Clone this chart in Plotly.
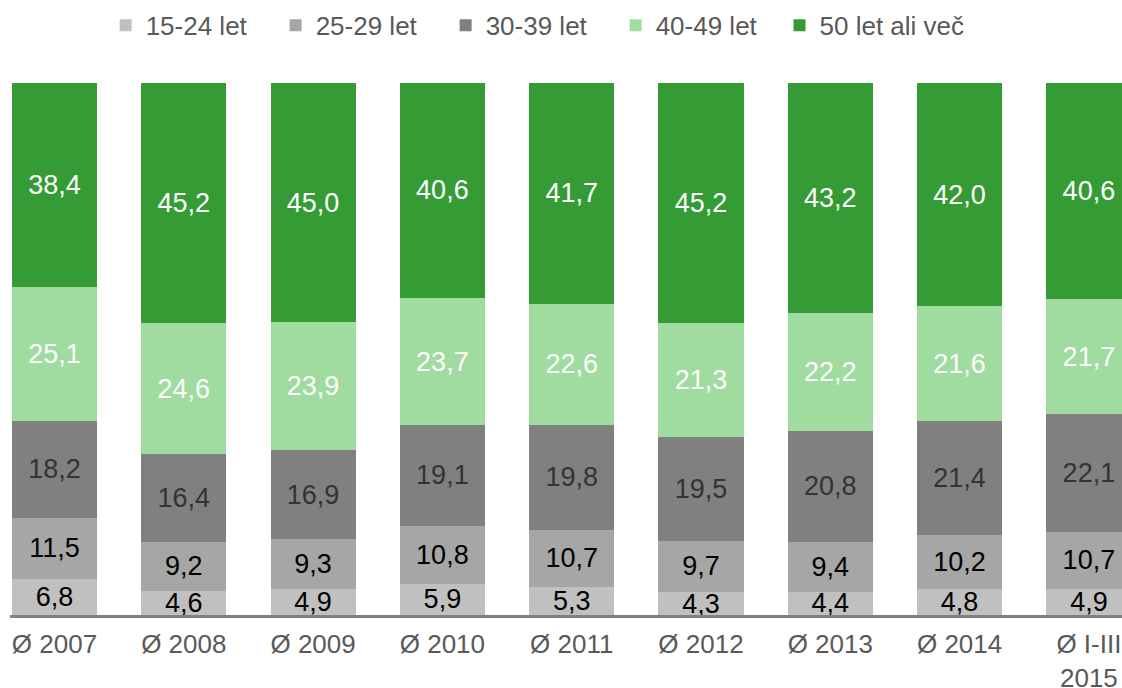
import plotly.graph_objects as go

categories = ["Ø 2007", "Ø 2008", "Ø 2009", "Ø 2010", "Ø 2011", "Ø 2012", "Ø 2013", "Ø 2014", "Ø I-III<br>2015"]
series_names = ["15-24 let", "25-29 let", "30-39 let", "40-49 let", "50 let ali več"]
v_15_24 = [6.8, 4.6, 4.9, 5.9, 5.3, 4.3, 4.4, 4.8, 4.9]
v_25_29 = [11.5, 9.2, 9.3, 10.8, 10.7, 9.7, 9.4, 10.2, 10.7]
v_30_39 = [18.2, 16.4, 16.9, 19.1, 19.8, 19.5, 20.8, 21.4, 22.1]
v_40_49 = [25.1, 24.6, 23.9, 23.7, 22.6, 21.3, 22.2, 21.6, 21.7]
v_50 = [38.4, 45.2, 45.0, 40.6, 41.7, 45.2, 43.2, 42.0, 40.6]

values = [v_15_24, v_25_29, v_30_39, v_40_49, v_50]
colors = ["#c0c0c0", "#a6a6a6", "#808080", "#a0dca0", "#359c35"]
label_colors = ["#000000", "#000000", "#333333", "#ffffff", "#ffffff"]

FONT = "Liberation Sans, Arial, sans-serif"

fig = go.Figure()
for i, (name, vals, col, lc) in enumerate(zip(series_names, values, colors, label_colors)):
    fig.add_trace(go.Bar(
        x=categories, y=vals, name=name,
        marker=dict(color=col, line=dict(width=0)),
        text=[f"{v:.1f}".replace(".", ",") for v in vals],
        textposition="inside", insidetextanchor="middle", textangle=0,
        textfont=dict(family=FONT, size=27, color=lc),
        hoverinfo="skip",
        legend="legend2" if i == len(series_names) - 1 else "legend",
    ))

legend_common = dict(
    orientation="h", xanchor="left",
    y=0.963, yanchor="middle", yref="container",
    font=dict(family=FONT, size=26, color="#595959"),
    traceorder="normal", bgcolor="rgba(0,0,0,0)",
)

fig.update_layout(
    barmode="stack",
    bargap=0.342,
    width=1122, height=688,
    margin=dict(l=10, r=0, t=83, b=73, autoexpand=False),
    paper_bgcolor="white", plot_bgcolor="white",
    uniformtext=dict(minsize=27, mode="show"),
    font=dict(family=FONT, color="#595959"),
    legend=dict(legend_common, x=0.086, entrywidth=125, entrywidthmode="pixels"),
    legend2=dict(legend_common, x=0.692),
    showlegend=True,
)
fig.update_xaxes(
    type="category",
    range=[-0.344, 8.256],
    automargin=False,
    showline=True, linecolor="#808080", linewidth=3,
    showgrid=False, zeroline=False, ticks="",
    tickfont=dict(family=FONT, size=26, color="#595959"),
    ticklabelstandoff=4,
)
fig.update_yaxes(range=[0, 100], visible=False, showgrid=False, zeroline=False, automargin=False)

fig.write_html(
    "out.html",
    config={"displayModeBar": False},
    post_script="document.body.style.margin='0';document.body.style.overflow='hidden';",
)
